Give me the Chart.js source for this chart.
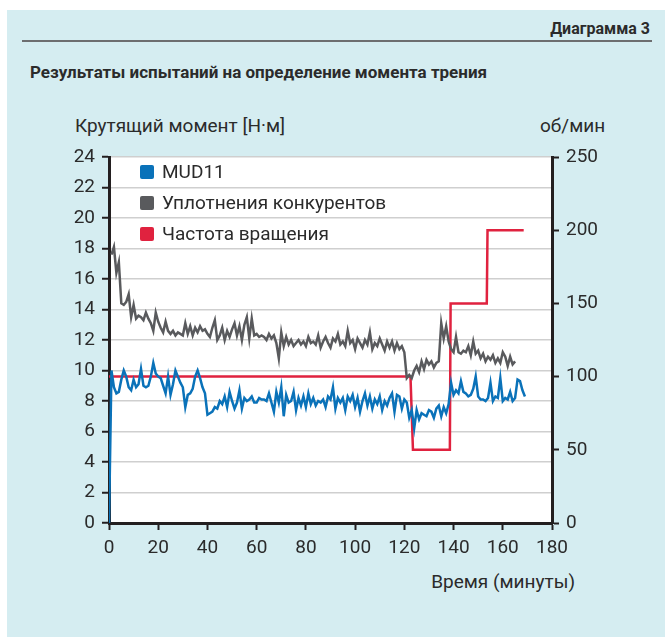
<!DOCTYPE html>
<html>
<head>
<meta charset="utf-8">
<script src="https://cdn.jsdelivr.net/npm/chart.js@4"></script>
<style>
  body { margin: 0; background: #fff; font-family: Roboto, "DejaVu Sans", sans-serif; color: #2b2b2b; }
  #panel { position: absolute; left: 7px; top: 10px; width: 658px; height: 627px; background: #d5edf1; }
  .txt { position: absolute; white-space: nowrap; }
  #wrap { position: absolute; left: 0; top: 0; width: 665px; height: 637px; }
</style>
</head>
<body>
<div id="panel"></div>
<div class="txt" style="right:15px; top:19px; font-size:16px; font-weight:bold;">Диаграмма 3</div>
<div style="position:absolute; left:22px; top:40px; width:630px; height:2px; background:#6d6e70;"></div>
<div class="txt" style="left:30px; top:62px; font-size:17px; font-weight:bold;">Результаты испытаний на определение момента трения</div>
<div class="txt" style="left:75px; top:114px; font-size:19px;">Крутящий момент [Н·м]</div>
<div class="txt" style="left:540px; top:114px; font-size:19px;">об/мин</div>
<div class="txt" style="right:90px; top:570px; font-size:19px;">Время (минуты)</div>
<div id="wrap"><canvas id="myChart" width="665" height="637"></canvas></div>
<script>
// minutes for each series
var mudStart = 0;
var mud11 = [0, 10.0, 8.9, 8.5, 8.6, 9.4, 10.0, 9.6, 8.9, 8.7,
  9.4, 8.9, 9.1, 10.1, 9.0, 8.9, 9.0, 9.6, 10.5, 9.8,
  9.6, 9.5, 9.0, 8.5, 9.6, 8.4, 9.1, 10.0, 9.6, 9.2,
  8.9, 7.6, 8.4, 8.5, 8.8, 9.6, 10.0, 9.5, 8.9, 8.5,
  7.1, 7.2, 7.3, 7.6, 7.5, 8.0, 7.8, 8.3, 7.6, 8.6,
  8.0, 7.5, 7.9, 8.7, 7.5, 8.2, 8.0, 8.1, 8.3, 7.9,
  7.9, 8.2, 8.1, 8.1, 8.0, 8.5, 7.9, 7.3, 8.6, 7.9,
  8.9, 7.0, 8.4, 7.9, 8.0, 8.6, 7.4, 8.2, 7.7, 8.3,
  7.6, 8.5, 7.8, 8.2, 7.7, 8.0, 7.9, 8.1, 7.6, 8.3,
  8.1, 8.9, 7.5, 8.2, 7.9, 8.2, 7.4, 8.3, 8.0, 8.4,
  7.6, 8.2, 7.3, 8.0, 8.5, 7.7, 8.3, 7.5, 8.1, 7.8,
  8.3, 7.4, 8.0, 7.7, 8.2, 8.5, 7.3, 8.4, 8.3, 7.5,
  8.1, 7.9, 6.9, 7.4, 6.2, 7.4, 6.8, 7.2, 7.1, 7.0,
  7.4, 7.3, 6.9, 7.5, 7.7, 7.0, 7.6, 7.2, 7.8, 9.2,
  8.4, 8.7, 8.5, 9.3, 8.6, 8.5, 8.3, 8.4, 8.8, 9.6,
  8.3, 8.1, 8.1, 8.0, 8.2, 9.2, 8.0, 8.3, 8.2, 9.5,
  8.0, 8.2, 8.1, 8.6, 8.0, 8.2, 9.4, 9.3, 8.7, 8.3];

var rivalStart = 1;
var rivals = [17.6, 18.1, 16.4, 17.1, 14.4, 14.3, 14.5, 15.0, 13.5,
  14.3, 13.4, 13.6, 13.5, 13.3, 13.8, 13.4, 13.1, 12.6, 13.8,
  13.2, 12.8, 12.5, 13.2, 12.6, 12.4, 12.6, 12.3, 12.5, 12.4,
  12.3, 13.1, 12.4, 12.9, 12.3, 12.8, 12.5, 12.9, 12.6, 12.7,
  12.4, 12.2, 12.8, 13.3, 12.0, 12.3, 12.8, 12.0, 12.6, 12.2,
  12.7, 13.1, 12.3, 12.9, 12.0, 13.0, 13.5, 12.1, 13.4, 12.3,
  12.4, 12.2, 12.3, 12.2, 12.0, 12.4, 12.1, 12.3, 11.8, 10.8,
  12.5, 11.6, 12.2, 11.7, 12.0, 11.6, 11.8, 12.0, 11.7, 11.9,
  11.6, 12.2, 11.8, 11.9, 11.7, 12.3, 11.5, 11.9, 12.2, 11.8,
  11.5, 12.1, 11.9, 12.4, 11.7, 11.9, 11.6, 12.6, 11.8, 12.0,
  11.4, 12.1, 11.8, 11.5, 12.0, 11.7, 12.5, 11.4, 11.8, 11.6,
  12.1, 11.7, 11.3, 11.9, 11.5, 11.9, 11.3, 11.8, 11.4, 11.6,
  11.2, 9.5, 9.7, 9.5, 10.0, 10.3, 9.9, 10.6, 10.1, 10.7,
  10.4, 10.6, 10.2, 10.5, 10.6, 13.1, 12.1, 12.9, 11.9, 11.4,
  11.2, 12.2, 11.2, 11.1, 11.3, 11.2, 11.6, 11.0, 11.9, 11.1,
  11.3, 10.8, 11.1, 10.6, 10.9, 10.7, 11.0, 10.5, 10.8, 10.5,
  11.2, 10.9, 10.3, 10.9, 10.4, 10.6];

var rpmTimes = [0, 122.5, 123.5, 138.5, 138.8, 153.5, 153.8, 168.5];
var rpmValues = [100, 100, 50, 50, 150, 150, 200, 200];

var torqueTicks = [0, 2, 4, 6, 8, 10, 12, 14, 16, 18, 20, 22, 24];
var rpmTicks = [0, 50, 100, 150, 200, 250];
var timeTicks = [0, 20, 40, 60, 80, 100, 120, 140, 160, 180];

function toPoints(start, arr) {
    return arr.map(function(v, i) { return {x: start + i, y: v}; });
}

var rpmPoints = rpmTimes.map(function(t, i) { return {x: t, y: rpmValues[i]}; });

var whiteArea = {
    id: 'whiteArea',
    beforeDraw: function(chart) {
        var a = chart.chartArea, c = chart.ctx;
        c.save();
        c.fillStyle = '#ffffff';
        c.fillRect(a.left, a.top, a.right - a.left, a.bottom - a.top);
        c.restore();
    }
};

// legend drawn inside the plot, top-left
var innerLegend = {
    id: 'innerLegend',
    afterDraw: function(chart) {
        var c = chart.ctx;
        var items = [0, 1, 2];
        c.save();
        c.font = '19px Roboto, sans-serif';
        c.textBaseline = 'middle';
        items.forEach(function(idx, k) {
            var ds = chart.data.datasets[idx];
            var y = 172 + k * 31;
            c.fillStyle = ds.borderColor;
            c.beginPath();
            c.roundRect(140, y - 7, 14, 14, 2);
            c.fill();
            c.fillStyle = '#2b2b2b';
            c.fillText(ds.label, 162, y + 1);
        });
        c.restore();
    }
};

var tickFont = {family: 'Roboto, sans-serif', size: 19};
var ctx = document.getElementById('myChart').getContext('2d');
var chart = new Chart(ctx, {
    type: 'line',
    data: {
        datasets: [{
            label: 'MUD11',
            data: toPoints(mudStart, mud11),
            borderColor: '#0a72b9',
            borderWidth: 2.5,
            pointRadius: 0,
            yAxisID: 'y',
            order: 1
        }, {
            label: 'Уплотнения конкурентов',
            data: toPoints(rivalStart, rivals),
            borderColor: '#595a5d',
            borderWidth: 2.5,
            pointRadius: 0,
            yAxisID: 'y',
            order: 2
        }, {
            label: 'Частота вращения',
            data: rpmPoints,
            borderColor: '#e0223f',
            borderWidth: 2.5,
            pointRadius: 0,
            yAxisID: 'y2',
            order: 3
        }]
    },
    options: {
        responsive: false,
        animation: false,
        layout: {padding: {top: 157, bottom: 74, left: 0, right: 0}},
        plugins: {legend: {display: false}, tooltip: {enabled: false}},
        scales: {
            x: {
                type: 'linear', min: 0, max: 180,
                afterFit: function(s) { s.height = 40; },
                afterBuildTicks: function(s) { s.ticks = timeTicks.map(function(v) { return {value: v}; }); },
                grid: {drawOnChartArea: false, tickColor: '#231f20', tickLength: 7, tickWidth: 2},
                border: {color: '#231f20', width: 3},
                ticks: {color: '#2b2b2b', font: tickFont, padding: 7, maxRotation: 0}
            },
            y: {
                position: 'left', min: 0, max: 24,
                afterFit: function(s) { s.width = 109; },
                afterBuildTicks: function(s) { s.ticks = torqueTicks.map(function(v) { return {value: v}; }); },
                grid: {color: '#cfcfcf', lineWidth: 1.5, tickColor: '#231f20', tickLength: 7, tickWidth: 2},
                border: {color: '#231f20', width: 3},
                ticks: {color: '#2b2b2b', font: tickFont, padding: 7}
            },
            y2: {
                position: 'right', min: 0, max: 250,
                afterFit: function(s) { s.width = 113; },
                afterBuildTicks: function(s) { s.ticks = rpmTicks.map(function(v) { return {value: v}; }); },
                grid: {drawOnChartArea: false, tickColor: '#231f20', tickLength: 7, tickWidth: 2},
                border: {color: '#231f20', width: 3},
                ticks: {color: '#2b2b2b', font: tickFont, padding: 7}
            }
        }
    },
    plugins: [whiteArea, innerLegend]
});
</script>
</body>
</html>
